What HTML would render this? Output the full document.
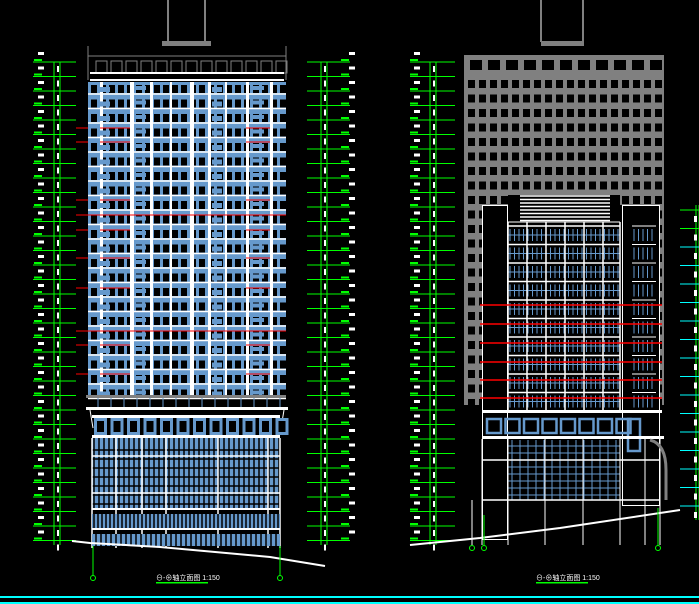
<!DOCTYPE html><html><head><meta charset="utf-8"><style>html,body{margin:0;background:#000;width:699px;height:604px;overflow:hidden}</style></head><body>
<svg id="s" width="699" height="604" xmlns="http://www.w3.org/2000/svg" style="display:block;font-family:'Liberation Sans','Noto Sans CJK SC',sans-serif"></svg>
<script>
const s=document.getElementById('s');let h='';
const R=(x,y,w,hh,f)=>h+=`<rect x="${x}" y="${y}" width="${w}" height="${hh}" fill="${f}"/>`;
const L=(x1,y1,x2,y2,c,w=1)=>h+=`<line x1="${x1}" y1="${y1}" x2="${x2}" y2="${y2}" stroke="${c}" stroke-width="${w}"/>`;
const G='#00ff00',B='#6699cc',W='#fff',GR='#808080',RD='#ff0000';
function dim(xa,xb,tx0,tx1,y0,y1,step,lbl,right){
 L(xa,y0,xa,y1,G);L(xb,y0,xb,y1,G);
 for(let y=y0;y<=y1;y+=step){L(tx0,y,tx1,y,G);
  let bx=right?xb+14:xa-20; R(bx,y-3,8,2,G);
  R(xb-3,y+4,2,6,W); if(lbl)R(right?xb+22:xa-16,y-10,6,3,W);}
}
dim(54,60,33,76,62,545,14.5,1,0);
dim(321,327,307,350,62,545,14.5,1,1);
dim(430,436,410,455,62,545,14.5,1,0);
L(696,205,696,520,G);L(699,205,699,520,G);
for(let y=210;y<520;y+=18.5){L(680,y,699,y,y<230?G:'#00ffff');R(694,y+6,3,6,W);}
// LEFT tower
L(168,0,168,42,W);L(205,0,205,42,W);R(162,41,49,5,GR);
L(88,56,286,56,GR);L(88,46,88,80,GR);L(286,46,286,80,GR);
for(let x=96;x<280;x+=15)h+=`<rect x="${x}" y="61" width="11" height="12" fill="none" stroke="${GR}"/>`;
L(90,73,284,73,W,2);L(90,80,284,80,W,2);
R(88,82,198,314,B);
for(let y=84;y<395;y+=14.5){L(88,y+10,286,y+10,W,1.5);
 for(let x=91;x<282;x+=9){R(x,y+1,6,8,'#000');}
}
[[100,3],[130,4],[150,3],[170,2],[190,4],[208,3],[225,2],[246,3],[270,3]].forEach(([x,w])=>R(x,82,w,314,W));
for(let y=84;y<395;y+=14.5){R(100,y+3,10,5,B);R(212,y+3,10,5,B);R(134,y+2,12,4,B);R(252,y+2,12,4,B);}
[128,142,200,230,258,288,345,374].forEach(y=>{L(76,y,88,y,RD);L(100,y,130,y,RD);L(246,y,270,y,RD);});
L(76,215,286,215,RD);L(76,331,286,331,RD);
R(86,395,200,3,GR);
for(let x=98;x<282;x+=13)L(x,398,x,407,B);
R(86,407,202,3,W);L(90,410,93,428,W);L(284,410,281,428,W);
R(92,415,188,3,W);
for(let x=94;x<278;x+=16.5){R(x,418,13,17,B);R(x+3,421,7,11,'#000');}
R(92,435,188,3,W);
R(92,438,188,70,B);
for(let x=94;x<280;x+=5)L(x,438,x,508,'#000',1.5);
for(let y=450;y<508;y+=9)L(92,y,280,y,'#000',1.5);
[92,116,142,166,218,268,280].forEach(x=>L(x,438,x,548,W,1.5));
L(92,456,280,456,W,1.5);L(92,493,280,493,W,1.5);
R(92,508,188,2,W);R(92,514,188,14,B);for(let x=94;x<280;x+=4)L(x,514,x,528,'#000',1.5);
R(92,528,188,2,W);R(92,534,188,12,B);for(let x=96;x<280;x+=5)L(x,534,x,546,'#000',1.5);
h+=`<polyline points="72,541 90,543 160,547 270,557 325,566" fill="none" stroke="${W}" stroke-width="2"/>`;
L(93,546,93,576,G);L(280,546,280,576,G);
h+=`<circle cx="93" cy="578" r="2.5" fill="none" stroke="${G}"/><circle cx="280" cy="578" r="2.5" fill="none" stroke="${G}"/>`;
h+=`<text x="156" y="580" font-size="7" fill="${W}">⊖-⊕轴立面图 1:150</text>`;R(156,582,52,1.5,G);
// RIGHT tower
L(541,0,541,42,W);L(583,0,583,42,W);R(541,41,43,5,GR);
R(464,55,200,350,GR);
for(let y=80;y<405;y+=14.5)for(let x=468;x<662;x+=11){R(x,y,7,8,'#000');}
for(let x=470;x<660;x+=18)R(x,60,12,10,'#000');
R(482,205,178,340,'#000');
h+=`<rect x="482.5" y="205.5" width="25" height="334" fill="none" stroke="${W}"/><rect x="622.5" y="205.5" width="37" height="300" fill="none" stroke="${W}"/>`;
R(508,195,112,28,'#000');for(let y=196;y<222;y+=3.5)L(520,y,610,y,W,1.5);
L(508,222,620,222,W);
for(let y=226;y<410;y+=18.5){L(508,y,620,y,W,1.5);for(let x=510;x<620;x+=4.5)L(x,y+3,x,y+15,B);L(508,y+9,620,y+9,B);
 for(let x=634;x<656;x+=4.5)L(x,y+3,x,y+15,B);L(632,y,656,y,W);}
[508,527,546,565,584,603,620].forEach(x=>L(x,222,x,410,W,1.5));
[305,324,343,362,380,398].forEach(y=>L(480,y,662,y,RD,1.5));
R(482,410,180,3,W);
for(let x=486;x<620;x+=18.5){h+=`<rect x="${x+1}" y="419" width="14" height="14" fill="none" stroke="${B}" stroke-width="2.5"/>`;}
h+=`<rect x="628" y="419" width="12" height="32" fill="none" stroke="${B}" stroke-width="2.5"/>`;
R(482,436,182,3,W);
for(let y=446;y<500;y+=7)L(508,y,620,y,B);for(let x=512;x<620;x+=8)L(x,440,x,500,B);
[482,508,545,583,620,645,660].forEach(x=>L(x,439,x,545,W,1));
L(482,460,660,460,W,1.5);L(482,500,660,500,W,1.5);
h+=`<path d="M650 440 Q666 444 666 470 L666 500" fill="none" stroke="${GR}" stroke-width="3"/>`;
h+=`<polyline points="410,545 480,538 560,528 680,510" fill="none" stroke="${W}" stroke-width="2"/>`;
L(472,500,472,546,W);L(484,515,484,546,G);L(658,508,658,546,G);
h+=`<circle cx="472" cy="548" r="2.5" fill="none" stroke="${G}"/><circle cx="484" cy="548" r="2.5" fill="none" stroke="${G}"/><circle cx="658" cy="548" r="2.5" fill="none" stroke="${G}"/>`;
h+=`<text x="536" y="580" font-size="7" fill="${W}">⊖-⊕轴立面图 1:150</text>`;R(536,582,52,1.5,G);
R(0,596,699,2,'#00ffff');R(0,602,699,2,'#00ffff');
s.innerHTML=h;
</script></body></html>
